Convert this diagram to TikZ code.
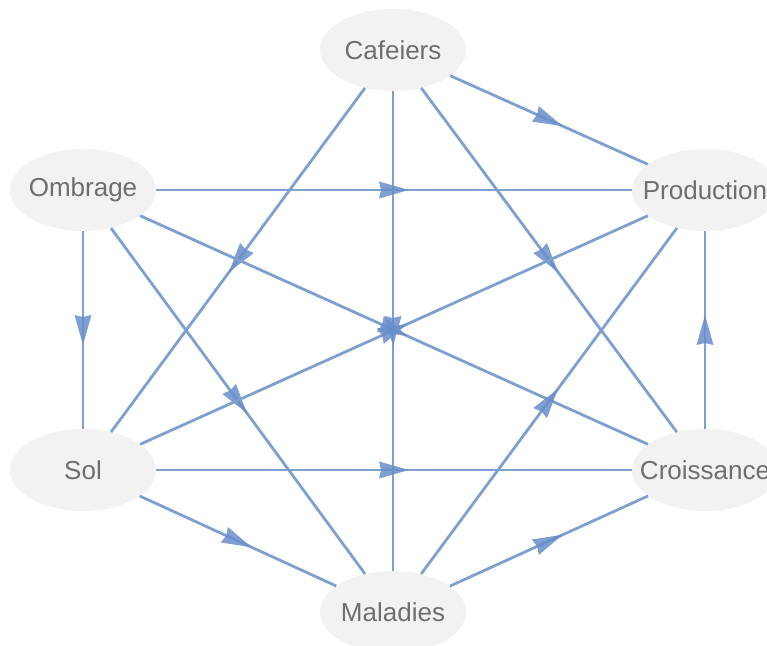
\documentclass[tikz,border=0pt]{standalone}
\usepackage{fontspec}
\setmainfont{Liberation Sans}
\usetikzlibrary{shapes.geometric, decorations.markings}
\definecolor{lblue}{RGB}{126,160,208}
\definecolor{hblue}{RGB}{104,142,202}
\definecolor{ngray}{RGB}{242,242,242}
\definecolor{tgray}{RGB}{110,110,110}
\newcommand{\vlabel}[1]{\makebox[0pt]{#1}}

\begin{document}
\begin{tikzpicture}[
  x=1pt, y=-1pt,
  var/.style={ellipse, fill=ngray, text=tgray, minimum width=146pt, minimum height=82pt,
              inner sep=0pt, font=\fontsize{26}{30}\selectfont},
  arr/.style={draw=lblue, line width=2.8pt, postaction={decorate},
              decoration={markings, mark=at position 0.5 with
                {\fill[hblue, fill opacity=0.85] (-15pt,-8.5pt) -- (15pt,0pt) -- (-15pt,8.5pt) -- (-13pt,0pt) -- cycle;}}}
]
\useasboundingbox (0,0) rectangle (767,645);
\node[var] (caf)  at (393,50)  {\vlabel{Cafeiers}};
\node[var] (omb)  at (83,190)  {\vlabel{Ombrage}};
\node[var] (prod) at (705,190) {\vlabel{Production}};
\node[var] (sol)  at (83,470)  {\vlabel{Sol}};
\node[var] (croi) at (705,470) {\vlabel{Croissance}};
\node[var] (mal)  at (393,612) {\vlabel{Maladies}};
\draw[arr] (caf) -- (prod);
\draw[arr] (caf) -- (sol);
\draw[arr] (caf) -- (croi);
\draw[arr] (caf) -- (mal);
\draw[arr] (omb) -- (prod);
\draw[arr] (omb) -- (sol);
\draw[arr] (omb) -- (croi);
\draw[arr] (omb) -- (mal);
\draw[arr] (sol) -- (prod);
\draw[arr] (sol) -- (croi);
\draw[arr] (sol) -- (mal);
\draw[arr] (mal) -- (prod);
\draw[arr] (mal) -- (croi);
\draw[arr] (croi) -- (prod);
\end{tikzpicture}
\end{document}
